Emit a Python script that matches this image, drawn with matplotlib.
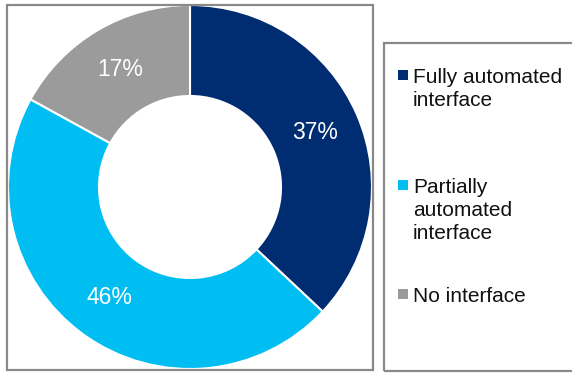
import matplotlib
matplotlib.use('Agg')
import matplotlib.pyplot as plt
from matplotlib.patches import Rectangle
import numpy as np

plt.rcParams['font.family'] = ['Liberation Sans', 'DejaVu Sans']

labels = ['Fully automated\ninterface', 'Partially\nautomated\ninterface', 'No interface']
shares = [37, 46, 17]
colors = ['#002D72', '#00BEF2', '#9B9B9B']

W, H = 572, 373
fig = plt.figure(figsize=(W / 100, H / 100), dpi=100)

# outer frames (pixel coords, origin top-left)
def box(x0, y0, x1, y1):
    fig.patches.append(Rectangle((x0 / W, 1 - y1 / H), (x1 - x0) / W, (y1 - y0) / H,
                                 transform=fig.transFigure, fill=False,
                                 edgecolor='#898989', linewidth=1.6))

box(7, 5, 373, 370)
box(384, 43, 580, 371)

# donut
cx, cy, r = 190, 187, 182
ax = fig.add_axes([(cx - r) / W, 1 - (cy + r) / H, 2 * r / W, 2 * r / H])
wedges, _ = ax.pie(shares, colors=colors, startangle=90, counterclock=False,
                   radius=1, wedgeprops=dict(width=0.5, edgecolor='white', linewidth=1.5))
ax.set_xlim(-1, 1)
ax.set_ylim(-1, 1)
ax.set_aspect('equal')
ax.axis('off')

start = 90.0
for v in shares:
    ang = np.deg2rad(start - v / 100 * 360 / 2)
    ax.text(0.75 * np.cos(ang), 0.75 * np.sin(ang), f'{v}%', color='white',
            fontsize=16.5, ha='center', va='center')
    start -= v / 100 * 360

# legend
leg_y = [68, 178, 287]
for lab, col, y in zip(labels, colors, leg_y):
    fig.patches.append(Rectangle((398 / W, 1 - (y + 12) / H), 10 / W, 10 / H,
                                 transform=fig.transFigure, facecolor=col, edgecolor='none'))
    fig.text(413 / W, 1 - y / H, lab, fontsize=15, color='#111111', ha='left', va='top',
             linespacing=1.28)

fig.savefig('out.png', dpi=100)
